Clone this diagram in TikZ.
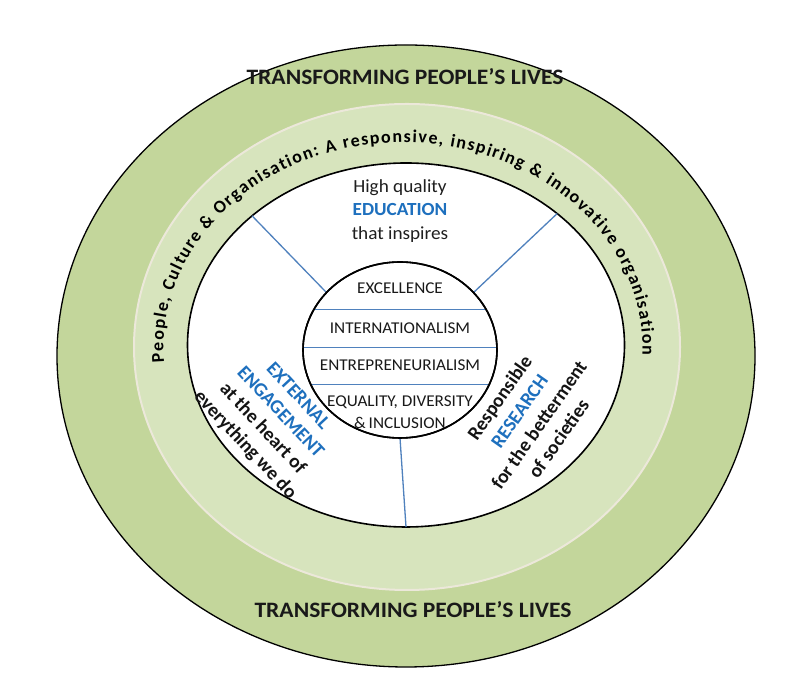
\documentclass[tikz,border=0pt]{standalone}
\usepackage{fontspec}
\setmainfont{Carlito}
\usetikzlibrary{shapes.geometric,decorations.text}
\definecolor{outergreen}{RGB}{195,214,155}
\definecolor{bandgreen}{RGB}{215,228,189}
\definecolor{cream}{RGB}{236,232,218}
\definecolor{spokeblue}{RGB}{79,129,189}
\definecolor{textblue}{RGB}{30,112,190}
\begin{document}
\begin{tikzpicture}[x=1pt,y=1pt,
  ell/.style={ellipse, inner sep=0pt, outer sep=0pt},
  spoke/.style={draw=spokeblue, line width=1.3pt},
  divider/.style={draw=spokeblue, line width=1pt},
  title/.style={font=\fontsize{22}{26}\selectfont\bfseries, text=black!90, inner sep=0pt, xscale=1.07},
  corelabel/.style={font=\fontsize{16.5}{19}\selectfont, text=black!90, inner sep=0pt, xscale=1.04},
  pillar/.style={font=\fontsize{19.5}{24}\selectfont\bfseries, align=center, inner sep=0pt, text=black!92},
  edulabel/.style={font=\fontsize{18.5}{23.5}\selectfont, align=center, inner sep=0pt, text=black!88, xscale=1.04},
]
\useasboundingbox (0,0) rectangle (800,700);
\fill[white] (0,0) rectangle (800,700);

% rings
\node[ell, minimum width=698, minimum height=622, fill=outergreen, draw=black, line width=1.3pt] (outer) at (406,344) {};
\node[ell, minimum width=546, minimum height=486, fill=bandgreen, draw=cream, line width=2pt] (band) at (407,353) {};
\node[ell, minimum width=437, minimum height=364, fill=white, draw=black, line width=1.6pt] (white) at (406,355) {};
\node[ell, minimum width=194, minimum height=176] (core) at (400,350) {};

% spokes
\draw[spoke] (core.142) -- (white.140);
\draw[spoke] (core.38) -- (white.41);
\draw[spoke] (core.270) -- (white.270);

% core ellipse
\node[ell, minimum width=194, minimum height=176, fill=white, draw=black, line width=1.6pt] (corebox) at (400,350) {};
\begin{scope}
  \clip (400,350) ellipse [x radius=96, y radius=87];
  \draw[divider] (300,390) -- (500,390);
  \draw[divider] (300,352) -- (500,352);
  \draw[divider] (300,315) -- (500,315);
\end{scope}
\node[ell, minimum width=194, minimum height=176, draw=black, line width=1.6pt] at (400,350) {};

% core labels
\node[corelabel] (exc) at (400,412) {EXCELLENCE};
\node[corelabel] (int) at (400,372) {INTERNATIONALISM};
\node[corelabel] (ent) at (400,335) {ENTREPRENEURIALISM};
\node[corelabel] (eq1) at (400,298) {EQUALITY, DIVERSITY};
\node[corelabel] (eq2) at (400,277) {\&\,INCLUSION};

% education
\node[edulabel] (edu) at (400,489) {High quality\\\textcolor{textblue}{\bfseries EDUCATION}\\that inspires};

% pillars
\node[pillar, rotate=-47] (ext) at (271,279) {\textcolor{textblue}{EXTERNAL}\\\textcolor{textblue}{ENGAGEMENT}\\at the heart of\\everything we do};
\node[pillar, rotate=55] (res) at (529,282) {Responsible\\\textcolor{textblue}{RESEARCH}\\for the betterment\\of societies};

% curved text
\path[decorate, decoration={text along path, text align=fit to path,
  text={|\fontsize{18}{20}\selectfont\bfseries|People, Culture {\&} Organisation: A responsive, inspiring {\&} innovative organisation}}]
  (403,352) ++(184:239.5 and 205.5) arc[start angle=184, end angle=-2, x radius=239.5, y radius=205.5];

% titles
\node[title] (top) at (405,623) {TRANSFORMING PEOPLE’S LIVES};
\node[title] (bottom) at (413,90) {TRANSFORMING PEOPLE’S LIVES};
\end{tikzpicture}
\end{document}
